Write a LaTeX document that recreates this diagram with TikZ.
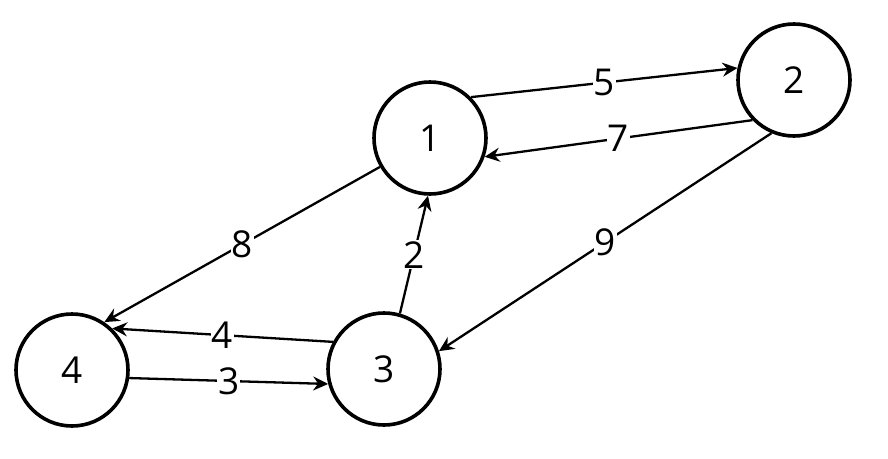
\documentclass[tikz,border=0pt]{standalone}
\usepackage{fontspec}
\setmainfont{Open Sans}
\usetikzlibrary{arrows.meta}

\begin{document}
\begin{tikzpicture}[
        x=1pt, y=-1pt,
        vertex/.style={circle, draw=black, line width=3.6pt, minimum size=112pt, inner sep=0pt, font=\fontsize{37}{40}\selectfont},
        edge/.style={draw=black, ->, >={Stealth[length=15pt,width=14pt,inset=5pt]}, line width=2.3pt},
        weight/.style={fill=white, inner sep=1pt, font=\fontsize{37}{40}\selectfont}
    ]
        \useasboundingbox (0,0) rectangle (888,458);
        \node [vertex] (n1) at (430,138) {1};
        \node [vertex] (n2) at (794,80) {2};
        \node [vertex] (n3) at (384,369) {3};
        \node [vertex] (n4) at (72,370) {4};

        \draw [edge] (n1.45) -- node [weight] {5} (n2.168);
        \draw [edge] (n2.224) -- node [weight] {7} (n1.341);
        \draw [edge] (n2.247) -- node [weight] {9} (n3.18);
        \draw [edge] (n1.210) -- node [weight] {8} (n4.56);
        \draw [edge] (n3.74) -- node [weight] {2} (n1.268);
        \draw [edge] (n3.152) -- node [weight] {4} (n4.46);
        \draw [edge] (n4.352) -- node [weight] {3} (n3.195);
    \end{tikzpicture}
\end{document}
